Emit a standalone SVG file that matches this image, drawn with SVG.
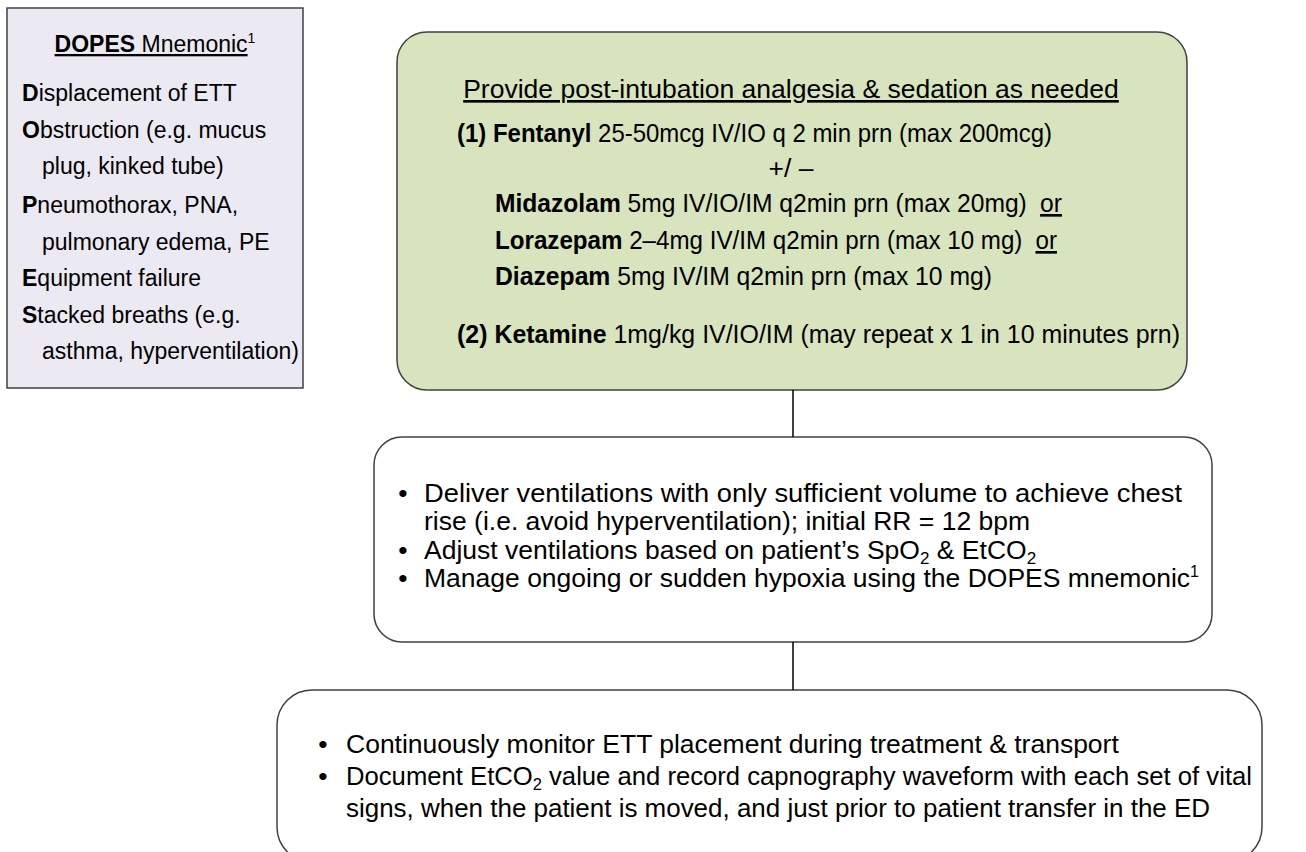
<svg xmlns="http://www.w3.org/2000/svg" width="1306" height="852" viewBox="0 0 1306 852">
  <style>
    text { font-family: "Liberation Sans", Arial, sans-serif; fill: #000; }
    .m { font-size: 26.5px; }
    .d { font-size: 23px; }
    .b { font-weight: bold; }
    .u { text-decoration: underline; }
    .box { stroke: #404040; stroke-width: 1.5; }
    .link { stroke: #000; stroke-width: 1.5; fill: none; }
  </style>

  <rect width="1306" height="852" fill="#fff"/>

  <!-- DOPES reference panel -->
  <g id="dopes">
    <rect class="box" x="7" y="8" width="296" height="380" fill="#EBE9F1"/>
    <text class="d" x="155" y="52" text-anchor="middle"><tspan class="b u">DOPES</tspan><tspan class="u"> Mnemonic</tspan><tspan font-size="14" dy="-9">1</tspan></text>
    <text class="d" x="22" y="101"><tspan class="b">D</tspan>isplacement of ETT</text>
    <text class="d" x="22" y="138"><tspan class="b">O</tspan>bstruction (e.g. mucus</text>
    <text class="d" x="42" y="174">plug, kinked tube)</text>
    <text class="d" x="22" y="213"><tspan class="b">P</tspan>neumothorax, PNA,</text>
    <text class="d" x="42" y="250">pulmonary edema, PE</text>
    <text class="d" x="22" y="286"><tspan class="b">E</tspan>quipment failure</text>
    <text class="d" x="22" y="323"><tspan class="b">S</tspan>tacked breaths (e.g.</text>
    <text class="d" x="42" y="359">asthma, hyperventilation)</text>
  </g>

  <!-- Analgesia and sedation -->
  <g id="sedation">
    <rect class="box" x="397" y="32" width="790" height="358" rx="30" fill="#D7E4BD"/>
    <text class="m u" x="791" y="98" text-anchor="middle">Provide post-intubation analgesia &amp; sedation as needed</text>
    <text class="m" x="457" y="142" textLength="595" lengthAdjust="spacingAndGlyphs"><tspan class="b">(1) Fentanyl</tspan> 25-50mcg IV/IO q 2 min prn (max 200mcg)</text>
    <text class="m" x="791" y="177" text-anchor="middle">+/ –</text>
    <text class="m" x="495" y="212" textLength="567" lengthAdjust="spacingAndGlyphs"><tspan class="b">Midazolam</tspan> 5mg IV/IO/IM q2min prn (max 20mg) <tspan class="u" dx="7">or</tspan></text>
    <text class="m" x="495" y="249" textLength="562" lengthAdjust="spacingAndGlyphs"><tspan class="b">Lorazepam</tspan> 2–4mg IV/IM q2min prn (max 10 mg) <tspan class="u" dx="7">or</tspan></text>
    <text class="m" x="495" y="285" textLength="497" lengthAdjust="spacingAndGlyphs"><tspan class="b">Diazepam</tspan> 5mg IV/IM q2min prn (max 10 mg)</text>
    <text class="m" x="457" y="343" textLength="723" lengthAdjust="spacingAndGlyphs"><tspan class="b">(2) Ketamine</tspan> 1mg/kg  IV/IO/IM (may repeat x 1 in 10 minutes prn)</text>
  </g>

  <!-- Ventilation -->
  <g id="ventilation">
    <rect class="box" x="374" y="437" width="838" height="205" rx="28" fill="#fff"/>
    <text class="m" x="403" y="502" text-anchor="middle">•</text>
    <text class="m" x="424" y="502" textLength="758" lengthAdjust="spacingAndGlyphs">Deliver ventilations with only sufficient volume to achieve chest</text>
    <text class="m" x="424" y="530">rise (i.e. avoid hyperventilation); initial RR = 12 bpm</text>
    <text class="m" x="403" y="559" text-anchor="middle">•</text>
    <text class="m" x="424" y="559">Adjust ventilations based on patient’s SpO<tspan font-size="17" dy="5">2</tspan><tspan dy="-5"> &amp; EtCO</tspan><tspan font-size="17" dy="5">2</tspan></text>
    <text class="m" x="403" y="587" text-anchor="middle">•</text>
    <text class="m" x="424" y="587">Manage ongoing or sudden hypoxia using the DOPES mnemonic<tspan font-size="16" dy="-10">1</tspan></text>
  </g>

  <!-- Monitoring -->
  <g id="monitoring">
    <rect class="box" x="277" y="690" width="985" height="172" rx="35" fill="#fff"/>
    <text class="m" x="323" y="753" text-anchor="middle">•</text>
    <text class="m" x="346" y="753">Continuously monitor ETT placement during treatment &amp; transport</text>
    <text class="m" x="323" y="785" text-anchor="middle">•</text>
    <text class="m" x="346" y="785" textLength="906" lengthAdjust="spacingAndGlyphs">Document EtCO<tspan font-size="17" dy="5">2</tspan><tspan dy="-5"> value and record capnography waveform with each set of vital</tspan></text>
    <text class="m" x="346" y="817" textLength="864" lengthAdjust="spacingAndGlyphs">signs, when the patient is moved, and just prior to patient transfer in the ED</text>
  </g>

  <!-- Connectors -->
  <g id="connectors">
    <line class="link" x1="793" y1="390" x2="793" y2="437"/>
    <line class="link" x1="793" y1="642" x2="793" y2="690"/>
  </g>
</svg>
